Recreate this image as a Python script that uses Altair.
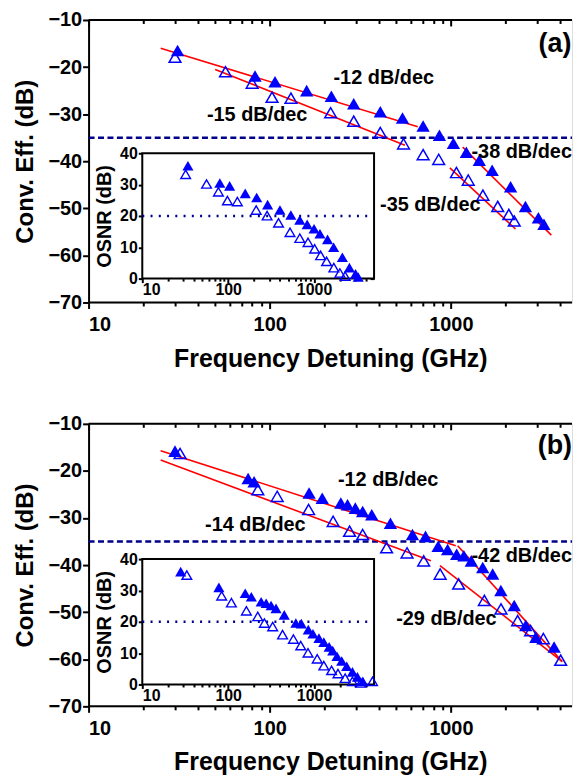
import altair as alt
import pandas as pd

FONT = "Liberation Sans"
BLUE = "#0000ff"
RED = "#ff0000"
NAVY = "#00008b"

# ---------------- data : panel (a) ----------------
a_fill_f = [31, 83, 107, 160, 219, 291, 408, 541, 703, 865, 1033, 1218, 1436, 1691, 2138, 2582, 3043, 3266]
a_fill_db = [-16.5, -21.9, -23.1, -25.0, -26.2, -27.8, -29.5, -30.8, -32.5, -34.5, -36.2, -38.1, -39.8, -41.9, -45.4, -49.6, -52.0, -53.4]
a_open_f = [30, 57, 80, 103, 131, 217, 291, 408, 548, 703, 857, 1074, 1248, 1503, 1815, 2090, 2240]
a_open_db = [-17.9, -21.0, -23.4, -26.4, -26.6, -29.7, -31.5, -33.9, -36.3, -38.6, -39.6, -42.4, -44.0, -47.2, -49.6, -51.3, -52.7]
a_ins_fill_f = [34, 80, 104, 158, 215, 288, 401, 537, 682, 832, 1000, 1172, 1436, 1691, 2138, 2582, 3043, 3266]
a_ins_fill_osnr = [36.0, 30.5, 29.6, 27.2, 25.9, 23.6, 21.9, 20.3, 18.7, 17.3, 15.9, 14.3, 12.5, 10.0, 6.8, 3.5, 1.5, 0.5]
a_ins_open_f = [32, 56, 77, 98, 128, 212, 284, 386, 525, 682, 851, 1016, 1192, 1400, 1700, 2000, 2300]
a_ins_open_osnr = [33.3, 30.2, 27.7, 24.9, 24.6, 21.9, 20.1, 17.8, 14.8, 12.9, 11.6, 9.5, 7.4, 5.5, 3.5, 1.8, 0.8]
a_fit_f1 = [25, 50, 1164, 988]
a_fit_f2 = [657, 558, 3589, 2275]
a_fit_db1 = [-16.0, -20.5, -37.0, -41.4]
a_fit_db2 = [-32.7, -36.6, -55.7, -54.4]
a_lab_text = ["-12 dB/dec", "-15 dB/dec", "-38 dB/dec", "-35 dB/dec"]
a_lab_f = [225, 45, 1300, 407]
a_lab_db = [-22.4, -30.1, -38.1, -49.2]

# ---------------- data : panel (b) ----------------
b_fill_f = [30, 76, 82, 165, 195, 247, 269, 297, 326, 366, 464, 614, 725, 851, 960, 1077, 1180, 1297, 1500, 1702, 1889, 2238, 2593, 2947, 3716]
b_fill_db = [-15.8, -21.6, -22.3, -24.7, -25.8, -26.8, -27.2, -27.9, -28.6, -29.3, -31.1, -33.5, -33.9, -36.0, -36.7, -37.7, -38.0, -39.1, -40.5, -41.9, -45.4, -48.6, -52.8, -55.3, -57.4]
b_open_f = [32, 86, 110, 164, 224, 276, 326, 442, 573, 708, 873, 1104, 1531, 1892, 2337, 2757, 3243, 4040]
b_open_db = [-16.3, -24.0, -25.4, -28.2, -30.7, -32.8, -33.5, -36.3, -37.4, -39.1, -41.9, -44.0, -47.5, -49.3, -51.8, -53.9, -55.6, -60.2]
b_ins_fill_f = [28, 78, 158, 186, 242, 277, 316, 361, 450, 614, 711, 857, 971, 1140, 1300, 1500, 1650, 1850, 2100, 2400, 2800, 3200, 3700]
b_ins_fill_osnr = [36.0, 31.0, 29.1, 28.0, 26.4, 25.9, 25.2, 24.3, 22.2, 19.6, 19.4, 17.5, 16.2, 14.8, 13.5, 12.0, 10.8, 9.0, 7.5, 5.8, 4.0, 2.4, 1.0]
b_ins_open_f = [33, 84, 109, 163, 221, 264, 330, 430, 575, 700, 851, 1089, 1300, 1600, 1900, 2300, 2800, 3500, 4800]
b_ins_open_osnr = [34.9, 28.3, 26.1, 23.5, 21.7, 19.6, 18.5, 15.9, 14.5, 12.4, 10.1, 8.2, 6.0, 4.5, 3.5, 2.0, 1.0, 0.5, 1.0]
b_fit_f1 = [25, 25, 1091, 871]
b_fit_f2 = [1065, 776, 4121, 4121]
b_fit_db1 = [-15.7, -17.7, -35.9, -40.1]
b_fit_db2 = [-35.9, -39.1, -60.5, -60.5]
b_lab_text = ["-12 dB/dec", "-14 dB/dec", "-42 dB/dec", "-29 dB/dec"]
b_lab_f = [238, 44, 1300, 499]
b_lab_db = [-21.9, -31.5, -38.0, -51.5]

panel_tags = ["(a)", "(b)"]
tag_f = [3050, 3020]
tag_db = [-15.1, -14.8]

# ---------------- axes / ticks ----------------
x_major = [10, 100, 1000]
x_minor = [20, 30, 40, 50, 60, 70, 80, 90, 200, 300, 400, 500, 600, 700, 800, 900, 2000, 3000, 4000]
ins_x_minor = [20, 30, 40, 50, 60, 70, 80, 90, 200, 300, 400, 500, 600, 700, 800, 900, 2000, 3000, 4000]
y_major = [-70, -60, -50, -40, -30, -20, -10]
ins_y_major = [0, 10, 20, 30, 40]
XDOM = [10, 4667]     # visible part of the frequency axis (the frame runs on past the picture)
YDOM = [-70, -10]
IXDOM = [10, 5000]
IYDOM = [0, 40]
dash_level = [-35]
osnr_level = [20]

W = 486
H = 284
INS_L, INS_R = 54, 287


def ax(**kw):
    base = dict(grid=False, domain=False, tickColor="black", tickWidth=2, minExtent=0,
                labelFont=FONT, labelFontWeight="bold", labelColor="black",
                titleFont=FONT, titleFontWeight="bold", titleColor="black")
    base.update(kw)
    return alt.Axis(**base)


NOAX = dict(labels=False, title=None)


def mx(field, axis=None):
    return alt.X(field, type="quantitative",
                 scale=alt.Scale(type="log", domain=XDOM, range=[0, W], nice=False),
                 axis=axis)


def my(field, axis=None):
    return alt.Y(field, type="quantitative",
                 scale=alt.Scale(domain=YDOM, range=[H, 0], nice=False, zero=False),
                 axis=axis)


def panel(fill_f, fill_db, open_f, open_db, ifill_f, ifill_o, iopen_f, iopen_o,
          f1, f2, d1, d2, lab_text, lab_f, lab_db, tag, tf, td, ins_t, ins_b):

    def ix(field, axis=None):
        return alt.X(field, type="quantitative",
                     scale=alt.Scale(type="log", domain=IXDOM, range=[INS_L, INS_R], nice=False),
                     axis=axis)

    def iy(field, axis=None):
        return alt.Y(field, type="quantitative",
                     scale=alt.Scale(domain=IYDOM, range=[ins_b, ins_t], nice=False, zero=False),
                     axis=axis)

    df_fill = pd.DataFrame({"f": fill_f, "db": fill_db})
    df_open = pd.DataFrame({"f": open_f, "db": open_db})
    df_ifill = pd.DataFrame({"f": ifill_f, "o": ifill_o})
    df_iopen = pd.DataFrame({"f": iopen_f, "o": iopen_o})
    df_fit = pd.DataFrame({"f1": f1, "f2": f2, "d1": d1, "d2": d2})
    df_lab = pd.DataFrame({"t": lab_text, "f": lab_f, "db": lab_db})
    df_tag = pd.DataFrame({"t": [tag], "f": [tf], "db": [td]})
    df_dash = pd.DataFrame({"db": dash_level})
    df_frame = pd.DataFrame({"db": YDOM})
    df_osnr = pd.DataFrame({"o": osnr_level, "fa": [IXDOM[0]], "fb": [IXDOM[1]]})
    df_box = pd.DataFrame({"f1": [IXDOM[0]], "f2": [IXDOM[1]], "o1": [IYDOM[0]], "o2": [IYDOM[1]]})

    frame = alt.Chart(df_frame).mark_rule(color="black", strokeWidth=2).encode(
        x=alt.value(0), x2=alt.value(W), y=my("db", None),
    )
    dash = alt.Chart(df_dash).mark_rule(color=NAVY, strokeWidth=2.5, strokeDash=[6, 3.5]).encode(
        x=alt.value(0), x2=alt.value(W), y=my("db", None),
    )
    fits = alt.Chart(df_fit).mark_rule(color=RED, strokeWidth=1.6).encode(
        x=mx("f1", ax(orient="top", offset=-6, values=x_major, tickSize=6, **NOAX)),
        x2="f2",
        y=my("d1", None),
        y2="d2",
    )
    top_minor = alt.Chart(df_fit).mark_point(opacity=0).encode(
        x=mx("f1", ax(orient="top", offset=-3.5, values=x_minor, tickSize=3.5, **NOAX)),
        y=my("d1", None),
    )
    open_pts = alt.Chart(df_open).mark_point(
        shape="triangle-up", filled=False, color=BLUE, size=140, strokeWidth=1.5, opacity=1
    ).encode(
        x=mx("f", ax(orient="bottom", values=x_major, format="d", tickSize=6, labelFontSize=20,
                     labelPadding=6, title="Frequency Detuning (GHz)", titleFontSize=25,
                     titlePadding=12)),
        y=my("db", ax(orient="left", values=y_major, format="d", tickSize=6, labelFontSize=20,
                      labelPadding=1, title="Conv. Eff. (dB)", titleFontSize=24, titlePadding=10,
                      domain=True, domainColor="black", domainWidth=2)),
    )
    fill_pts = alt.Chart(df_fill).mark_point(
        shape="triangle-up", filled=True, color=BLUE, size=180, opacity=1
    ).encode(
        x=mx("f", ax(orient="bottom", values=x_minor, tickSize=3.5, **NOAX)),
        y=my("db", None),
    )
    labels = alt.Chart(df_lab).mark_text(
        align="left", baseline="middle", font=FONT, fontWeight="bold", fontSize=20, color="black"
    ).encode(x=mx("f"), y=my("db"), text="t")
    tagt = alt.Chart(df_tag).mark_text(
        align="left", baseline="middle", font=FONT, fontWeight="bold", fontSize=27, color="black"
    ).encode(x=mx("f"), y=my("db"), text="t")

    # ---- inset ----
    box = alt.Chart(df_box).mark_rect(fill="white", stroke="black", strokeWidth=2).encode(
        x=ix("f1", ax(orient="bottom", values=x_major, format="d", tickSize=4, labelFontSize=16,
                      labelPadding=-1, offset=ins_b - H, title=None)),
        x2="f2",
        y=iy("o1", ax(orient="left", values=ins_y_major, format="d", tickSize=4, labelFontSize=16,
                      labelPadding=1, offset=-INS_L, title="OSNR (dB)", titleFontSize=20,
                      titlePadding=5)),
        y2="o2",
    )
    dot = alt.Chart(df_osnr).mark_rule(color=NAVY, strokeWidth=2.5, strokeDash=[2, 6.3]).encode(
        x=ix("fa", ax(orient="top", offset=-ins_t - 4, values=x_major, tickSize=4, **NOAX)),
        x2="fb",
        y=iy("o", ax(orient="right", offset=INS_R - W - 4, values=ins_y_major, tickSize=4, **NOAX)),
    )
    iopen = alt.Chart(df_iopen).mark_point(
        shape="triangle-up", filled=False, color=BLUE, size=95, strokeWidth=1.4, opacity=1
    ).encode(
        x=ix("f", ax(orient="bottom", values=ins_x_minor, tickSize=2.5, offset=ins_b - H, **NOAX)),
        y=iy("o", None),
    )
    ifill = alt.Chart(df_ifill).mark_point(
        shape="triangle-up", filled=True, color=BLUE, size=125, opacity=1
    ).encode(
        x=ix("f", ax(orient="top", offset=-ins_t - 2.5, values=ins_x_minor, tickSize=2.5, **NOAX)),
        y=iy("o", None),
    )

    return alt.layer(
        frame, dash, top_minor, fits, open_pts, fill_pts, labels, tagt, box, dot, iopen, ifill
    ).resolve_scale(x="independent", y="independent").properties(width=W, height=H)


pa = panel(a_fill_f, a_fill_db, a_open_f, a_open_db, a_ins_fill_f, a_ins_fill_osnr,
           a_ins_open_f, a_ins_open_osnr, a_fit_f1, a_fit_f2, a_fit_db1, a_fit_db2,
           a_lab_text, a_lab_f, a_lab_db, panel_tags[0], tag_f[0], tag_db[0], 134, 260)
pb = panel(b_fill_f, b_fill_db, b_open_f, b_open_db, b_ins_fill_f, b_ins_fill_osnr,
           b_ins_open_f, b_ins_open_osnr, b_fit_f1, b_fit_f2, b_fit_db1, b_fit_db2,
           b_lab_text, b_lab_f, b_lab_db, panel_tags[1], tag_f[1], tag_db[1], 136, 262)

chart = alt.vconcat(pa, pb, spacing=41).properties(
    padding={"left": 5, "top": -1, "right": 0, "bottom": 0}
).configure_view(stroke=None).configure(background="white")

chart.save("out.html", embed_options={"renderer": "svg", "actions": False})
